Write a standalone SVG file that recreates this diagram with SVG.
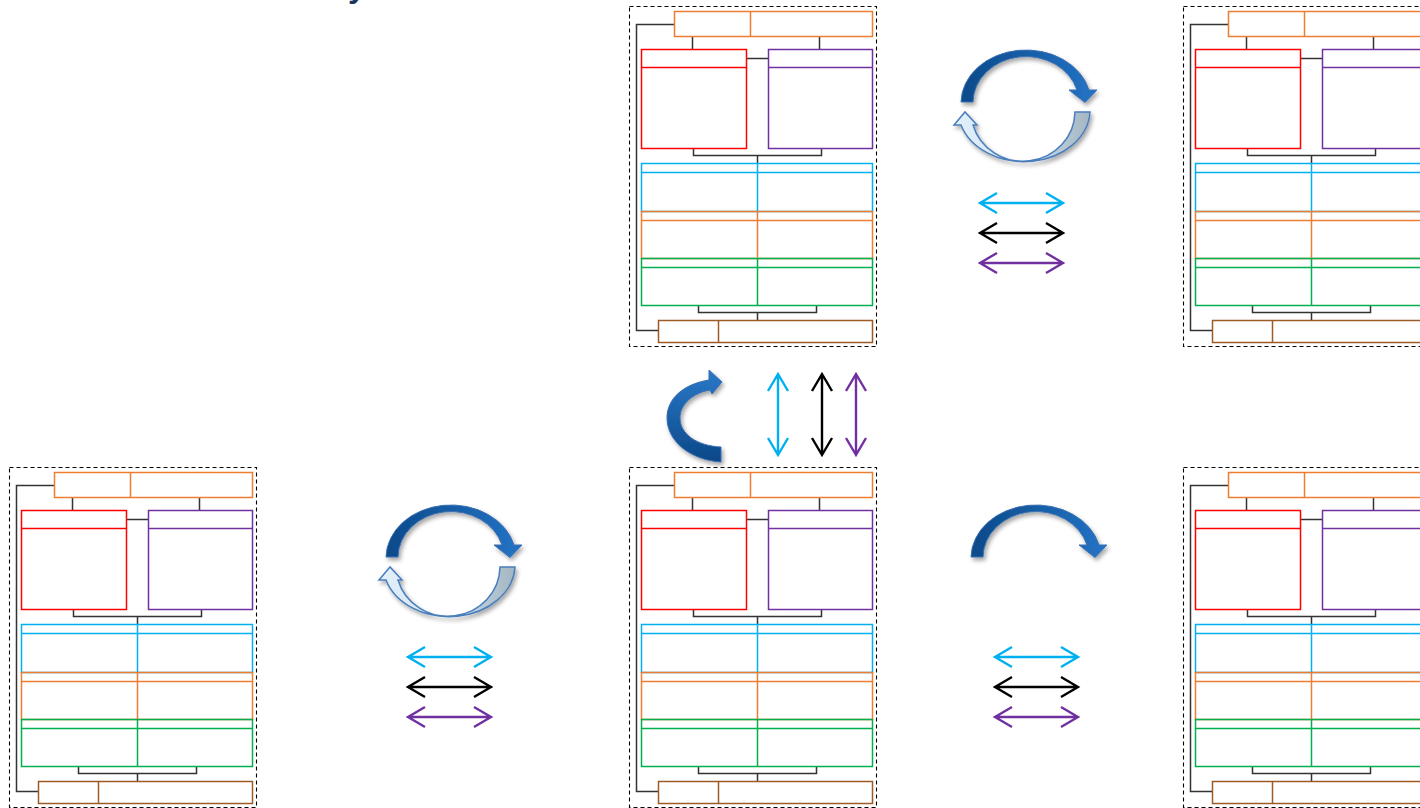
<svg xmlns="http://www.w3.org/2000/svg" xmlns:xlink="http://www.w3.org/1999/xlink" width="1420" height="808" viewBox="0 0 1420 808">
<style>
.dash{fill:none;stroke:#000;stroke-width:1.1;stroke-dasharray:4 3}
.ln{fill:none;stroke:#333;stroke-width:1.5}
.bx{fill:none;stroke-width:1.5}
.or{stroke:#ED7D31}.rd{stroke:#FF0000}.pu{stroke:#7030A0}.cy{stroke:#00B0F0}.gr{stroke:#00B050}.br{stroke:#9C5A24}
.arr{fill:none;stroke-width:2.4;stroke-linejoin:miter}
.title{font-family:"Liberation Sans",Arial,sans-serif;font-weight:bold;font-size:32px;fill:#17375E}
</style>
<defs>
<filter id="sh" x="-20%" y="-20%" width="150%" height="150%">
<feDropShadow dx="2" dy="3" stdDeviation="2" flood-color="#000" flood-opacity="0.35"/>
</filter>
<linearGradient id="gTop" x1="0" y1="0" x2="1" y2="0">
<stop offset="0" stop-color="#0B4A8A"/><stop offset="1" stop-color="#2373C5"/>
</linearGradient>
<linearGradient id="gBot" x1="0" y1="0" x2="1" y2="0">
<stop offset="0" stop-color="#E2F0FA"/><stop offset="0.45" stop-color="#D3E5F2"/><stop offset="1" stop-color="#A3B6C2"/>
</linearGradient>
<linearGradient id="gC" x1="0" y1="0" x2="0" y2="1">
<stop offset="0" stop-color="#2A79C9"/><stop offset="1" stop-color="#0B4887"/>
</linearGradient>
<path id="arcTop" d="M961,102 A65 53 0 0 1 1089,90 L1097,90 L1085,102.5 L1069,90 L1077,90 A53 46 0 0 0 973,102 Z" fill="url(#gTop)" stroke="#3D6FB0" stroke-width="1" filter="url(#sh)"/>
<path id="arcBot" d="M1090,112 A66 52 0 0 1 961,125 L954,125 L965,112 L977,125 L973,125 A52 50 0 0 0 1075,112 Z" fill="url(#gBot)" stroke="#4A7EBD" stroke-width="1.5" filter="url(#sh)"/>
<g id="mod">
<rect class="dash" x="0" y="0" width="247" height="340"/>
<path class="ln" d="M45,18 H7 V324 H29"/>
<path class="ln" d="M63,30 V43 M190,30 V43 M117,52 H139"/>
<path class="ln" d="M64,142 V149 H192 V142 M128,149 V157"/>
<path class="ln" d="M69,299 V306 H187 V299 M128,306 V314"/>
<rect class="bx or" x="45" y="5" width="198" height="25"/>
<path class="bx or" d="M121,5 V30"/>
<rect class="bx rd" x="12" y="43" width="105" height="99"/>
<path class="bx rd" d="M12,61 H117"/>
<rect class="bx pu" x="139" y="43" width="104" height="99"/>
<path class="bx pu" d="M139,61 H243"/>
<rect class="bx cy" x="12" y="157" width="231" height="48"/>
<path class="bx cy" d="M12,166 H243 M128,157 V205"/>
<rect class="bx or" x="12" y="205" width="231" height="47"/>
<path class="bx or" d="M12,214 H243 M128,205 V252"/>
<rect class="bx gr" x="12" y="252" width="231" height="47"/>
<path class="bx gr" d="M12,261 H243 M128,252 V299"/>
<rect class="bx br" x="29" y="314" width="214" height="22"/>
<path class="bx br" d="M89,314 V336"/>
</g>
<g id="hArrows">
<path class="arr" stroke="#00B0F0" d="M2,0 H85 M19,-10 L2,0 L19,10 M68,-10 L85,0 L68,10"/>
<path class="arr" stroke="#000" d="M2,30 H85 M19,20 L2,30 L19,40 M68,20 L85,30 L68,40"/>
<path class="arr" stroke="#7030A0" d="M2,60 H85 M19,50 L2,60 L19,70 M68,50 L85,60 L68,70"/>
</g>
</defs>

<text class="title" x="348" y="-3">y</text>

<g id="module-top-center"><use xlink:href="#mod" transform="translate(629.5,6.5)"/></g>
<g id="module-top-right"><use xlink:href="#mod" transform="translate(1183.5,6.5)"/></g>
<g id="module-bottom-left"><use xlink:href="#mod" transform="translate(9.5,467.5)"/></g>
<g id="module-bottom-center"><use xlink:href="#mod" transform="translate(629.5,467.5)"/></g>
<g id="module-bottom-right"><use xlink:href="#mod" transform="translate(1183.5,467.5)"/></g>

<g id="connectors">
<g id="cycle-top">
<use xlink:href="#arcBot"/>
<use xlink:href="#arcTop"/>
</g>
<g id="cycle-bottom-left" transform="translate(-575,455)">
<use xlink:href="#arcBot"/>
<use xlink:href="#arcTop"/>
</g>
<g id="arc-bottom-right" transform="translate(10,455)">
<use xlink:href="#arcTop"/>
</g>
<path id="c-arrow" d="M721,462 C690,460 667,441 667,418 C667,398 684,384 709,380 L709,370 L722,382 L712,394 L710,390 C693,393 680,404 680,418 C680,434 697,446 721,447 Z" fill="url(#gC)" stroke="#3D6FB0" stroke-width="1" filter="url(#sh)"/>
<use xlink:href="#hArrows" transform="translate(978,203)"/>
<use xlink:href="#hArrows" transform="translate(406,657)"/>
<use xlink:href="#hArrows" transform="translate(993,657)"/>
<path class="arr" stroke="#00B0F0" d="M778,374 V455 M768,391 L778,374 L788,391 M768,438 L778,455 L788,438"/>
<path class="arr" stroke="#000" d="M822,374 V455 M812,391 L822,374 L832,391 M812,438 L822,455 L832,438"/>
<path class="arr" stroke="#7030A0" d="M856,374 V455 M846,391 L856,374 L866,391 M846,438 L856,455 L866,438"/>
</g>
</svg>
